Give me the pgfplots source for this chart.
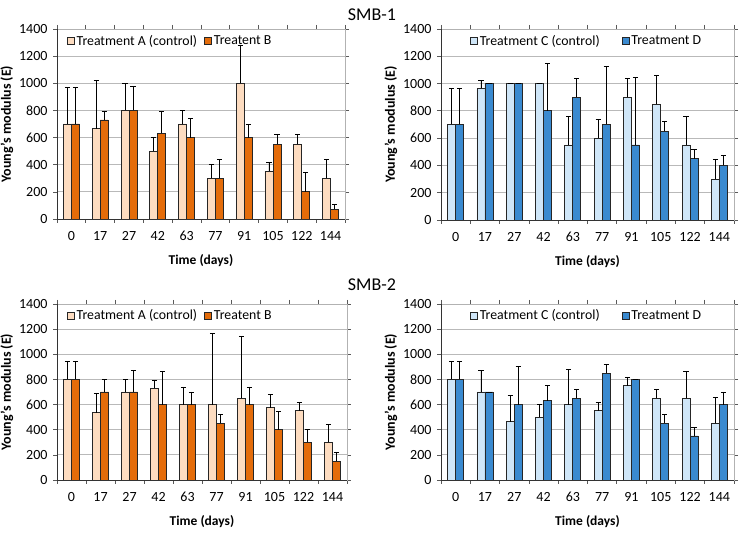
\documentclass[border=0pt]{standalone}
\usepackage{pgfplots}
\pgfplotsset{compat=1.18}
\usepackage{pgfplotstable}
\usepackage{fontspec}
\setmainfont{Carlito}
\definecolor{cA}{HTML}{FDDCC0}
\definecolor{cB}{HTML}{E46C0A}
\definecolor{cC}{HTML}{CFE6F8}
\definecolor{cD}{HTML}{3A8AD0}

\pgfplotstableread{
x A Aerr B Berr
0 700 270 700 270
1 665 355 730 65
2 800 200 800 175
3 500 100 630 160
4 700 100 600 140
5 300 100 300 140
6 1000 280 600 100
7 350 70 550 70
8 550 70 200 140
9 300 140 70 40
}\pone
\pgfplotstableread{
x A Aerr B Berr
0 700 265 700 265
1 965 55 1000 0
2 1000 0 1000 0
3 1000 0 800 345
4 550 210 900 140
5 600 140 700 425
6 900 140 550 495
7 850 210 650 70
8 550 210 450 70
9 300 145 400 70
}\ptwo
\pgfplotstableread{
x A Aerr B Berr
0 800 140 800 140
1 535 150 700 100
2 700 100 700 170
3 730 60 600 260
4 600 140 600 100
5 600 565 450 70
6 650 495 600 140
7 575 105 400 145
8 550 70 300 100
9 300 140 150 70
}\pthree
\pgfplotstableread{
x A Aerr B Berr
0 800 140 800 140
1 700 170 700 0
2 465 210 600 300
3 500 100 630 120
4 600 280 650 70
5 550 70 850 70
6 750 70 800 0
7 650 70 450 70
8 650 215 350 70
9 450 210 600 100
}\pfour

\pgfplotsset{
  smb/.style={
    scale only axis,
    anchor=south west,
    ybar=0pt, bar width=8pt,
    ymin=0, ymax=1400, ytick={0,200,...,1400},
    xmin=-0.5, xmax=9.5,
    xtick={0,...,9},
    xticklabels={0,17,27,42,63,77,91,105,122,144},
    major x tick style={draw=none},
    minor xtick={-0.5,0.5,...,9.5},
    minor tick length=4pt,
    major tick length=4pt,
    tick align=outside,
    tick style={black!65, line width=0.7pt},
    ymajorgrids,
    grid style={gray!55, line width=0.8pt},
    axis line style={gray!60, line width=0.8pt},
    ticklabel style={font=\fontsize{14}{16}\selectfont},
    /pgf/number format/assume math mode=true,
    /pgf/number format/1000 sep={},
    xticklabel style={yshift=-5pt},
    yticklabel style={xshift=-2pt},
    xlabel={\bfseries Time (days)},
    ylabel={\bfseries Young's modulus (E)},
    xlabel style={font=\fontsize{13.5}{15}\selectfont, yshift=-7pt},
    ylabel style={font=\fontsize{14}{16}\selectfont, yshift=-1pt},
    legend columns=2,
    legend style={draw=none, fill=none, font=\fontsize{13.8}{15}\selectfont,
      anchor=north west, inner sep=1pt},
    legend image code/.code={\draw[#1, line width=0.8pt] (0pt,-3.5pt) rectangle (7pt,3.5pt);},
    every axis plot/.append style={draw=black!85, line width=0.8pt,
      error bars/y dir=plus, error bars/y explicit,
      error bars/error mark=-,
      error bars/error bar style={black, line width=0.8pt},
      error bars/error mark options={rotate=90, black, mark size=2.6pt, line width=0.8pt}},
    extra description/.code={
      \draw[black!80, line width=0.8pt] (rel axis cs:0,1) -- (rel axis cs:0,0) -- (rel axis cs:1,0);
    },
  }
}

\begin{document}
\begin{tikzpicture}
\path[use as bounding box] (0pt,0pt) rectangle (743pt,534pt);
\node[font=\fontsize{18}{20}\selectfont] at (372pt,519pt) {SMB-1};
\node[font=\fontsize{18}{20}\selectfont] at (372pt,249pt) {SMB-2};

\begin{axis}[smb, at={(57pt,315pt)}, width=288pt, height=190pt,
  legend style={at={(rel axis cs:0.03,0.985)}, /tikz/every even column/.append style={column sep=5pt}}]
\addplot[fill=cA] table[x=x,y=A,y error=Aerr]{\pone};
\addplot[fill=cB] table[x=x,y=B,y error=Berr]{\pone};
\legend{Treatment A (control),Treatent B}
\end{axis}

\begin{axis}[smb, at={(441pt,314pt)}, width=293pt, height=191pt,
  legend style={at={(rel axis cs:0.095,0.985)}, /tikz/every even column/.append style={column sep=20pt}}]
\addplot[fill=cC] table[x=x,y=A,y error=Aerr]{\ptwo};
\addplot[fill=cD] table[x=x,y=B,y error=Berr]{\ptwo};
\legend{Treatment C (control),Treatment D}
\end{axis}

\begin{axis}[smb, at={(57pt,54pt)}, width=290pt, height=176pt,
  legend style={at={(rel axis cs:0.03,0.985)}, /tikz/every even column/.append style={column sep=5pt}}]
\addplot[fill=cA] table[x=x,y=A,y error=Aerr]{\pthree};
\addplot[fill=cB] table[x=x,y=B,y error=Berr]{\pthree};
\legend{Treatment A (control),Treatent B}
\end{axis}

\begin{axis}[smb, at={(441pt,54pt)}, width=293pt, height=176pt,
  legend style={at={(rel axis cs:0.095,0.985)}, /tikz/every even column/.append style={column sep=20pt}}]
\addplot[fill=cC] table[x=x,y=A,y error=Aerr]{\pfour};
\addplot[fill=cD] table[x=x,y=B,y error=Berr]{\pfour};
\legend{Treatment C (control),Treatment D}
\end{axis}
\end{tikzpicture}
\end{document}
